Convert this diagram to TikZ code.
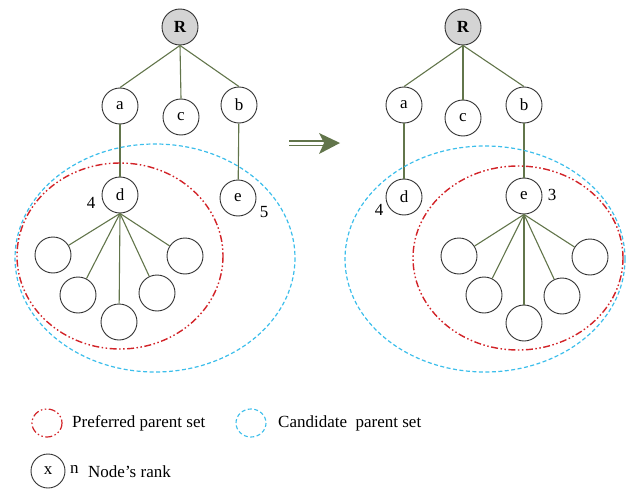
\documentclass[tikz,border=0pt]{standalone}
\usepackage{fontspec}
\setmainfont{Liberation Serif}
\usetikzlibrary{arrows.meta}
\definecolor{edgec}{RGB}{98,117,75}
\definecolor{bluec}{RGB}{60,190,235}
\definecolor{redc}{RGB}{210,35,40}
\tikzset{
  tn/.style={circle,draw=black!80,line width=0.9pt,fill=white,minimum size=36pt,inner sep=0pt,font=\fontsize{17}{17}\selectfont},
  rootn/.style={tn,fill=black!17,font=\fontsize{17}{17}\selectfont\bfseries},
  edg/.style={draw=edgec,line width=1.1pt},
  pref/.style={draw=redc,line width=1.4pt,dash pattern=on 7pt off 2.5pt on 1.5pt off 2.5pt on 1.5pt off 2.5pt},
  cand/.style={draw=bluec,line width=1.2pt,dash pattern=on 4pt off 2.5pt},
  lbl/.style={font=\fontsize{17}{17}\selectfont,inner sep=0pt},
}
\begin{document}
\begin{tikzpicture}[x=1pt,y=-1pt]
\useasboundingbox (0,0) rectangle (634,492);
% ---------- left tree ----------
\node[rootn] (R1) at (180,27) {R};
\node[tn] (a1) at (120,106) {a};
\node[tn] (c1) at (181,117) {c};
\node[tn] (b1) at (239,105) {b};
\node[tn] (d1) at (120,195) {d};
\node[tn] (e1) at (238,198) {e};
\node[tn] (k11) at (53,255) {};
\node[tn] (k12) at (78,295) {};
\node[tn] (k13) at (119,322) {};
\node[tn] (k14) at (157,293) {};
\node[tn] (k15) at (185,256) {};
\node[lbl] (n4l) at (91,203) {4};
\node[lbl] (n5l) at (264,212) {5};
\draw[edg] (R1.south) -- (a1.north);
\draw[edg] (R1.south) -- (c1.north);
\draw[edg] (R1.south) -- (b1.north);
\draw[edg] (a1) -- (d1);
\draw[edg] (b1) -- (e1);
\foreach \k in {k11,k12,k13,k14,k15} \draw[edg] (d1.south) -- (\k);
\draw[cand] (155,258) ellipse [x radius=140, y radius=114];
\draw[pref] (120,256) ellipse [x radius=103, y radius=93];
% ---------- arrow ----------
\coordinate (arE) at (340,143);
\draw[edgec,line width=1.4pt] (289,141) -- (324,141);
\draw[edgec,line width=1.4pt] (289,145.5) -- (324,145.5);
\fill[edgec] (319,133) -- (arE) -- (319,154) -- (324,143) -- cycle;
% ---------- right tree ----------
\node[rootn] (R2) at (463,27) {R};
\node[tn] (a2) at (404,105) {a};
\node[tn] (c2) at (463,118) {c};
\node[tn] (b2) at (524,105) {b};
\node[tn] (d2) at (404,197) {d};
\node[tn] (e2) at (524,196) {e};
\node[tn] (k21) at (459,256) {};
\node[tn] (k22) at (484,295) {};
\node[tn] (k23) at (524,323) {};
\node[tn] (k24) at (562,296) {};
\node[tn] (k25) at (590,257) {};
\node[lbl] (n4r) at (379,210) {4};
\node[lbl] (n3r) at (552,195) {3};
\draw[edg] (R2.south) -- (a2.north);
\draw[edg] (R2.south) -- (c2.north);
\draw[edg] (R2.south) -- (b2.north);
\draw[edg] (a2) -- (d2);
\draw[edg] (b2) -- (e2);
\foreach \k in {k21,k22,k23,k24,k25} \draw[edg] (e2.south) -- (\k);
\draw[cand] (485,259) ellipse [x radius=140, y radius=113];
\draw[pref] (518,258) ellipse [x radius=105, y radius=92];
% ---------- legend ----------
\draw[pref,line width=1.2pt] (47,423) ellipse [x radius=15, y radius=14];
\node[lbl,anchor=west] (lp) at (72,423) {Preferred parent set};
\draw[cand,line width=1.1pt] (251,423) ellipse [x radius=15, y radius=14];
\node[lbl,anchor=west] (lc) at (278,423) {Candidate\ \ parent set};
\node[tn,minimum size=34pt] (lx) at (48,471) {x};
\node[lbl,anchor=west] (ln) at (70,469) {n};
\node[lbl,anchor=west] (lr) at (88,472) {Node's rank};
\end{tikzpicture}
\end{document}
